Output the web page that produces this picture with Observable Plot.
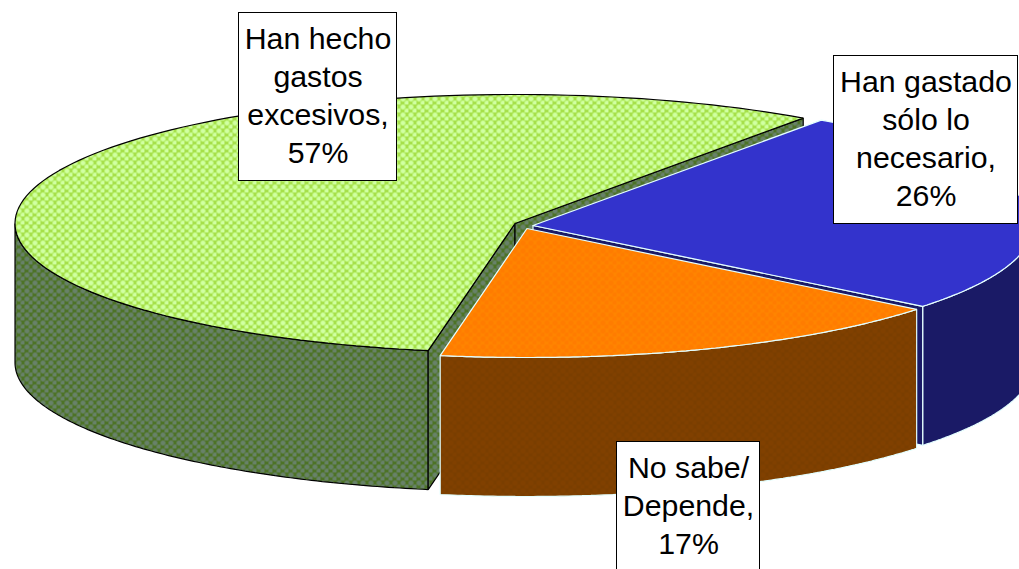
<!DOCTYPE html>
<html><head><meta charset="utf-8">
<script src="https://cdn.jsdelivr.net/npm/d3@7"></script>
<script src="https://cdn.jsdelivr.net/npm/@observablehq/plot@0.6"></script>
<style>html,body{margin:0;padding:0;background:#fff;overflow:hidden}svg{display:block}</style>
</head><body><div id="chart"></div>
<script>
// Data
const categories = ["Han hecho gastos excesivos", "Han gastado sólo lo necesario", "No sabe/ Depende"];
const shares = [57, 26, 17];
const labelLines = [
  ["Han hecho", "gastos", "excesivos,", "57%"],
  ["Han gastado", "sólo lo", "necesario,", "26%"],
  ["No sabe/", "Depende,", "17%"]
];

// Layout of the drawing (not data)
const W = 1019, H = 569;
const A = 500, B = 129, DEPTH = 139;
const centres = [[514.5, 223], [532.5, 225], [526.5, 228]];
const boxes = [
  {x1: 238.5, x2: 396.5, y1: 12.5, y2: 180.5},
  {x1: 833.5, x2: 1017.5, y1: 55.5, y2: 223.5},
  {x1: 616.5, x2: 759.5, y1: 441.5, y2: 590}
];
const FONT = 30.3, LEAD = 38;

// Angles come from the shares; the pie's clockwise order is blue, orange, green.
const total = d3.sum(shares);
const sweep = shares.map(v => v / total * 360);
const blueFrom = 35.2, blueTo = blueFrom + sweep[1], orangeTo = blueTo + sweep[2], greenTo = orangeTo + sweep[0];
const rim = (c, t) => { const r = t * Math.PI / 180; return [c[0] + A * Math.sin(r), c[1] - B * Math.cos(r)]; };
const arc = (c, t0, t1) => d3.range(0, 121).map(i => rim(c, t0 + (t1 - t0) * i / 120));
const down = ps => ps.map(([x, y]) => [x, y + DEPTH]);
const topFace = (c, t0, t1) => [c, ...arc(c, t0, t1), c];
const wall = (c, t0, t1) => { const a = arc(c, t0, t1); return [...a, ...down(a).reverse(), a[0]]; };
const cut = (c, t) => { const e = rim(c, t); return [c, e, [e[0], e[1] + DEPTH], [c[0], c[1] + DEPTH], c]; };

const [cG, cB, cO] = centres;
const EDGE = "#e4ffff";
const faces = [
  {pts: wall(cG, orangeTo, 270), fill: "url(#gSide)", stroke: "#000"},
  {pts: cut(cG, orangeTo), fill: "url(#gSide)", stroke: "#000"},
  {pts: cut(cG, blueFrom), fill: "url(#gSide)", stroke: "#000"},
  {pts: topFace(cG, orangeTo, greenTo), fill: "url(#gTop)", stroke: "#000"},
  {pts: wall(cB, 90, blueTo), fill: "#1a1a66", stroke: EDGE},
  {pts: cut(cB, blueTo), fill: "#1a1a66", stroke: EDGE},
  {pts: topFace(cB, blueFrom, blueTo), fill: "#3333cc", stroke: EDGE},
  {pts: wall(cO, blueTo, orangeTo), fill: "url(#oSide)", stroke: EDGE},
  {pts: topFace(cO, blueTo, orangeTo), fill: "url(#oTop)", stroke: EDGE}
];

function pattern(id, bg, hi, dot) {
  const cross = (x, y) => `M${x - 1} ${y - 2}h3v1h1v3h-1v1h-3v-1h-1v-3h1z`;
  return `<pattern id="${id}" width="8" height="8" patternUnits="userSpaceOnUse">
    <rect width="8" height="8" fill="${bg}"/>
    <path d="${cross(2, 2)}${cross(6, 6)}" fill="${hi}"/>
    <path d="M2 2h1v1h-1zM6 6h1v1h-1z" fill="${dot}"/>
  </pattern>`;
}
const defs = () => {
  const g = d3.create("svg:defs");
  g.html(
    pattern("gTop", "#a6e04a", "#ccff99", "#e0ffc4") +
    pattern("gSide", "#4d7326", "#668066", "#6f8a70") +
    pattern("oTop", "#ff8400", "#ff7c00", "#ff7a00") +
    pattern("oSide", "#7a3e00", "#804000", "#804000")
  );
  return g.node();
};

const textRows = labelLines.flatMap((lines, i) => lines.map((line, j) => ({
  line,
  x: (boxes[i].x1 + boxes[i].x2) / 2,
  y: boxes[i].y1 + 26.5 + LEAD * j
})));

const plot = Plot.plot({
  width: W, height: H, margin: 0,
  x: {domain: [0, W], range: [0, W], axis: null},
  y: {domain: [0, H], range: [0, H], axis: null},
  style: {background: "#fff", fontFamily: "'Liberation Sans', Arial, sans-serif"},
  marks: [
    defs,
    ...faces.map(f => Plot.line(f.pts, {
      x: d => d[0], y: d => d[1], fill: f.fill, stroke: f.stroke,
      strokeWidth: 1.2, strokeLinejoin: "miter", curve: "linear"
    })),
    Plot.rect(boxes, {x1: "x1", x2: "x2", y1: "y1", y2: "y2", fill: "#fff", stroke: "#000", strokeWidth: 1}),
    Plot.text(textRows, {x: "x", y: "y", text: "line", fontSize: FONT, fill: "#000", textAnchor: "middle", lineAnchor: "middle"})
  ]
});
document.getElementById("chart").append(plot);
</script></body></html>
